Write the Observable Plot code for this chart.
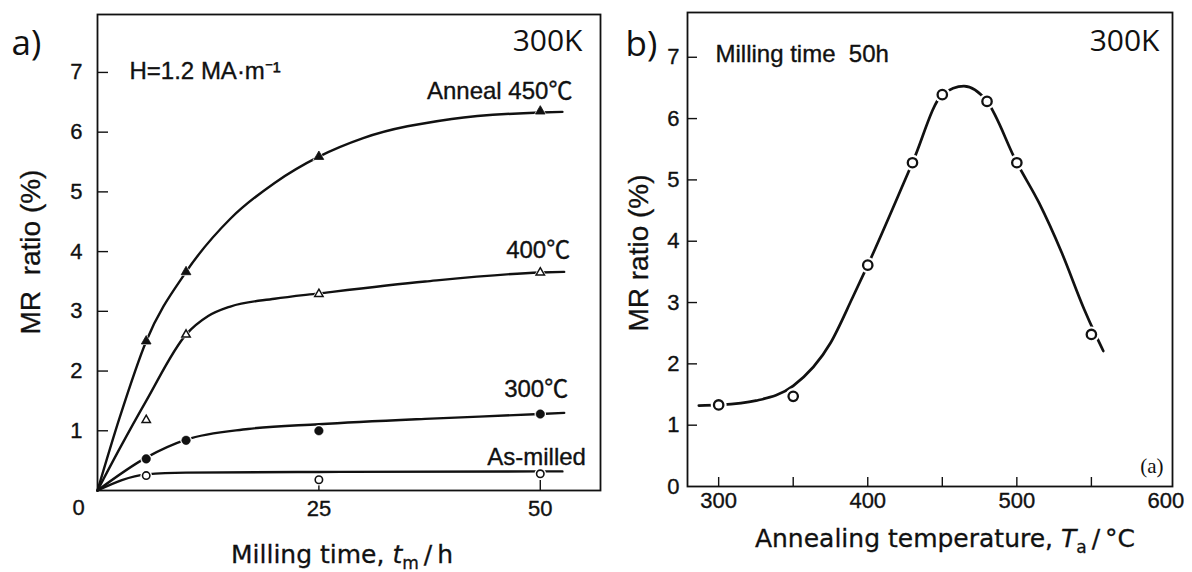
<!DOCTYPE html>
<html><head><meta charset="utf-8">
<script src="https://cdn.jsdelivr.net/npm/d3@7"></script>
<script src="https://cdn.jsdelivr.net/npm/@observablehq/plot@0.6"></script>
<style>
html,body{margin:0;padding:0;background:#fff;}
#wrap{position:relative;width:1192px;height:572px;overflow:hidden;background:#fff;}
#wrap svg{position:absolute;top:0;}
</style></head><body><div id="wrap"></div>
<script>
// ---------- Panel a: MR ratio vs milling time ----------
const millTimes = [5.5, 10, 25, 50];
const mr450 = [2.50, 3.66, 5.59, 6.35];
const mr400 = [1.18, 2.61, 3.29, 3.65];
const mr300 = [0.53, 0.84, 1.00, 1.28];
const asMilledTimes = [5.5, 25, 50];
const mrAsMilled = [0.25, 0.18, 0.28];
// hand-drawn fitted curves
const fit450T = [0, 2.5, 5.5, 10, 15, 20, 25, 30, 40, 50, 52.5];
const fit450 = [0, 1.22, 2.50, 3.66, 4.55, 5.15, 5.59, 5.90, 6.22, 6.33, 6.34];
const fit400T = [0, 2.5, 5.5, 10, 12.5, 15, 20, 25, 37, 50, 52.7];
const fit400 = [0, 0.70, 1.50, 2.61, 2.92, 3.08, 3.21, 3.30, 3.50, 3.65, 3.66];
const fit300T = [0, 5.5, 10, 17, 25, 37, 50, 52.7];
const fit300 = [0, 0.55, 0.85, 1.03, 1.11, 1.20, 1.28, 1.30];
const fitAsT = [0, 5.5, 10, 25, 50, 52.5];
const fitAs = [0, 0.27, 0.30, 0.31, 0.32, 0.32];
const yTicksA = [1, 2, 3, 4, 5, 6, 7];
const xTicksA = [25, 50];
const seriesNames = ["Anneal 450℃", "400℃", "300℃", "As-milled"];

// ---------- Panel b: MR ratio vs annealing temperature ----------
const annealTemps = [300, 350, 400, 430, 450, 480, 500, 550];
const mr50h = [1.33, 1.47, 3.61, 5.28, 6.39, 6.28, 5.28, 2.48];
const fitBT = [286.7, 300, 325, 350, 375, 390, 400, 430, 450, 464.5, 480, 500, 515, 530, 545, 552.7, 558];
const fitB = [1.32, 1.33, 1.40, 1.64, 2.34, 3.09, 3.61, 5.28, 6.39, 6.53, 6.28, 5.28, 4.62, 3.82, 2.90, 2.48, 2.21];
const yTicksB = [0, 1, 2, 3, 4, 5, 6, 7];
const xTicksB = [300, 350, 400, 450, 500, 550];
const xLabelsB = [300, 400, 500, 600];

const rows = (ts, vs, s) => ts.map((t, i) => ({t, v: vs[i], s}));
const INK = "#111";
const SANS = "'Liberation Sans', Arial, 'Noto Sans CJK JP', sans-serif";
const OPEN = "'Open Sans', 'Noto Sans', sans-serif";
const TXT = {fill: INK, stroke: INK, strokeWidth: 0.35};

// ===== Panel a =====
const WA = 610, HA = 572, MLA = 97, MRA = 10, MTA = 14, MBA = 82;
const iwA = WA - MLA - MRA, ihA = HA - MTA - MBA;
const fitsA = [
  rows(fit450T, fit450, seriesNames[0]),
  rows(fit400T, fit400, seriesNames[1]),
  rows(fit300T, fit300, seriesNames[2]),
  rows(fitAsT, fitAs, seriesNames[3])
];
const ptsA = [
  rows(millTimes, mr450, seriesNames[0]),
  rows(millTimes, mr400, seriesNames[1]),
  rows(millTimes, mr300, seriesNames[2]),
  rows(asMilledTimes, mrAsMilled, seriesNames[3])
];
const labelOffsets = [[10, -12.5], [6, -13.5], [4, -15.4], [23.5, -6]];

const plotA = Plot.plot({
  width: WA, height: HA, marginLeft: MLA, marginRight: MRA, marginTop: MTA, marginBottom: MBA,
  style: {fontFamily: SANS, fontSize: "22px", background: "transparent", overflow: "visible", color: INK},
  x: {domain: [0, 56.8], axis: null},
  y: {domain: [0, 7.97], axis: null},
  marks: [
    Plot.frame({stroke: INK, strokeWidth: 1.8}),
    Plot.ruleY(yTicksA, {y: d => d, insetRight: iwA - 11, stroke: INK, strokeWidth: 1.4}),
    Plot.ruleX(xTicksA, {x: d => d, insetTop: ihA - 10, stroke: INK, strokeWidth: 1.4}),
    Plot.text(yTicksA, {y: d => d, text: d => String(d), frameAnchor: "left", dx: -15, textAnchor: "end", ...TXT, fontSize: 22}),
    Plot.text(xTicksA, {x: d => d, text: d => String(d), frameAnchor: "bottom", dy: 25, ...TXT, fontSize: 22}),
    Plot.text([0], {x: d => d, text: d => String(d), frameAnchor: "bottom", dx: -19, dy: 24, ...TXT, fontSize: 22}),
    ...fitsA.map(f => Plot.line(f, {x: "t", y: "v", curve: "monotone-x", stroke: INK, strokeWidth: 2.4})),
    // halos
    ...ptsA.map((p, k) => Plot.dot(p, {x: "t", y: "v", symbol: k < 2 ? "triangle" : "circle", r: k < 2 ? 4.8 : 5.8, fill: "white", stroke: "none"})),
    Plot.dot(ptsA[0], {x: "t", y: "v", symbol: "triangle", r: 3.6, fill: INK, stroke: INK, strokeWidth: 0.8}),
    Plot.dot(ptsA[1], {x: "t", y: "v", symbol: "triangle", r: 3.1, fill: "white", stroke: INK, strokeWidth: 1.5}),
    Plot.dot(ptsA[2], {x: "t", y: "v", r: 4.3, fill: INK, stroke: INK, strokeWidth: 0.5}),
    Plot.dot(ptsA[3], {x: "t", y: "v", r: 3.7, fill: "white", stroke: INK, strokeWidth: 1.6}),
    ...fitsA.map((f, k) => Plot.text([f[f.length - 1]], {x: "t", y: "v", text: "s", textAnchor: "end", lineAnchor: "bottom",
      dx: labelOffsets[k][0], dy: labelOffsets[k][1], ...TXT, fontSize: 24, fontFamily: SANS})),
    Plot.text(["H=1.2 MA·m⁻¹"], {text: d => d, frameAnchor: "top-left", dx: 32, dy: 64, textAnchor: "start", lineAnchor: "bottom", ...TXT, fontSize: 24}),
    Plot.text(["300K"], {text: d => d, frameAnchor: "top-right", dx: -18, dy: 36, textAnchor: "end", lineAnchor: "bottom", fill: INK, fontSize: 30, fontFamily: OPEN}),
    Plot.text(["a)"], {text: d => d, frameAnchor: "top-left", dx: -86, dy: 40, textAnchor: "start", lineAnchor: "bottom", fill: INK, fontSize: 35, fontFamily: OPEN})
  ]
});

// ===== Panel b =====
const XB = 610;
const WB = 1192 - XB, HB = 572, MLB = 77, MRB = 20, MTB = 12, MBB = 86;
const iwB = WB - MLB - MRB, ihB = HB - MTB - MBB;
const fitRowsB = rows(fitBT, fitB, "50h");
const ptsB = rows(annealTemps, mr50h, "50h");

const plotB = Plot.plot({
  width: WB, height: HB, marginLeft: MLB, marginRight: MRB, marginTop: MTB, marginBottom: MBB,
  style: {fontFamily: SANS, fontSize: "22px", background: "transparent", overflow: "visible", color: INK},
  x: {domain: [279.1, 604.4], axis: null},
  y: {domain: [0, 7.73], axis: null},
  marks: [
    Plot.frame({stroke: INK, strokeWidth: 1.8}),
    Plot.ruleY(yTicksB.slice(1), {y: d => d, insetRight: iwB - 10, stroke: INK, strokeWidth: 1.4}),
    Plot.ruleX(xTicksB, {x: d => d, insetTop: ihB - 9, stroke: INK, strokeWidth: 1.4}),
    Plot.text(yTicksB, {y: d => d, text: d => String(d), frameAnchor: "left", dx: -8, textAnchor: "end", ...TXT, fontSize: 22}),
    Plot.text(xLabelsB, {x: d => d, text: d => String(d), frameAnchor: "bottom", dy: 21, ...TXT, fontSize: 22}),
    Plot.line(fitRowsB, {x: "t", y: "v", curve: "monotone-x", stroke: INK, strokeWidth: 2.7}),
    Plot.dot(ptsB, {x: "t", y: "v", r: 8, fill: "white", stroke: "none"}),
    Plot.dot(ptsB, {x: "t", y: "v", r: 4.7, fill: "white", stroke: INK, strokeWidth: 2.3}),
    Plot.text(["300K"], {text: d => d, frameAnchor: "top-right", dx: -13, dy: 38, textAnchor: "end", lineAnchor: "bottom", fill: INK, fontSize: 30, fontFamily: OPEN}),
    Plot.text(["Milling time\u00a0\u00a050h"], {text: d => d, frameAnchor: "top-left", dx: 28, dy: 49, textAnchor: "start", lineAnchor: "bottom", ...TXT, fontSize: 24}),
    Plot.text(["b)"], {text: d => d, frameAnchor: "top-left", dx: -62, dy: 43, textAnchor: "start", lineAnchor: "bottom", fill: INK, fontSize: 35, fontFamily: OPEN}),
    Plot.text(["(a)"], {text: d => d, frameAnchor: "bottom-right", dx: -9, dy: -14, textAnchor: "end", lineAnchor: "bottom", fill: INK, fontSize: 21, fontFamily: "'Liberation Serif', 'DejaVu Serif', serif"})
  ]
});

const wrap = document.getElementById("wrap");
plotA.style.left = "0px";
plotB.style.left = XB + "px";
wrap.appendChild(plotA);
wrap.appendChild(plotB);

// axis titles (with italic / subscript parts)
function xTitle(svg, cx, base, parts) {
  const t = d3.select(svg).append("text")
    .attr("x", cx).attr("y", base).attr("text-anchor", "middle")
    .attr("fill", INK).attr("stroke", INK).attr("stroke-width", 0.3)
    .style("font-family", "'DejaVu Sans', Verdana, sans-serif").style("font-size", "25px");
  t.append("tspan").text(parts[0]);
  t.append("tspan").style("font-style", "italic").text(parts[1]);
  t.append("tspan").attr("dy", 6).style("font-size", "17px").text(parts[2]);
  t.append("tspan").attr("dy", -6).text(parts[3]);
}
xTitle(plotA, 342, 563, ["Milling time, ", "t", "m", "\u2009/\u2009h"]);
xTitle(plotB, 945 - XB, 547, ["Annealing temperature, ", "T", "a", "\u2009/\u2009°C"]);

function yTitle(svg, cx, cy, label) {
  d3.select(svg).append("text")
    .attr("transform", `translate(${cx},${cy}) rotate(-90)`)
    .attr("text-anchor", "middle").attr("fill", INK).attr("stroke", INK).attr("stroke-width", 0.3)
    .style("font-family", SANS).style("font-size", "28px")
    .text(label);
}
yTitle(plotA, 40, 252, "MR\u00a0\u00a0ratio (%)");
yTitle(plotB, 648 - XB, 253, "MR ratio (%)");
</script></body></html>
